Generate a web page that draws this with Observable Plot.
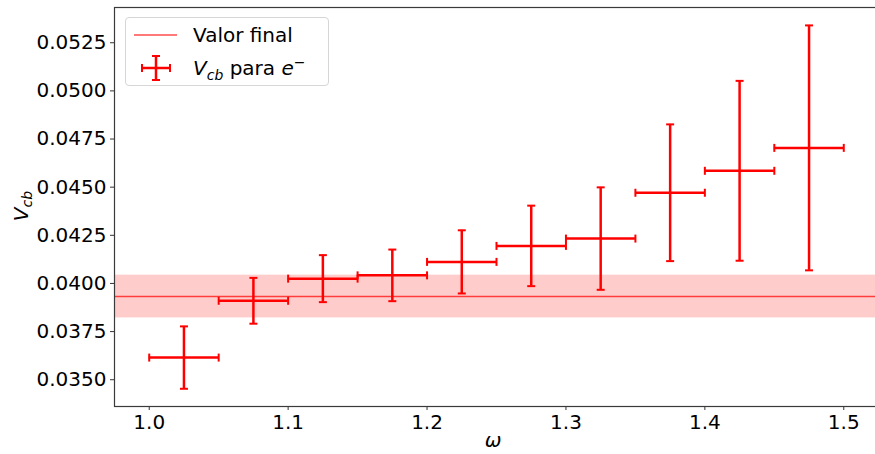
<!DOCTYPE html>
<html>
<head>
<meta charset="utf-8">
<script src="https://cdn.jsdelivr.net/npm/d3@7"></script>
<script src="https://cdn.jsdelivr.net/npm/@observablehq/plot@0.6"></script>
<style>
  html, body { margin: 0; padding: 0; background: #fff; }
  #wrap { position: relative; width: 875px; height: 454px; overflow: hidden; font-family: "DejaVu Sans", sans-serif; }
  #legend {
    position: absolute; left: 125px; top: 17px; width: 204px; height: 69px;
    border: 1px solid #d6d6d6; border-radius: 4px; background: rgba(255,255,255,0.8);
    font-size: 20px; color: #000; box-sizing: border-box;
  }
  .entry { position: absolute; left: 0; height: 30px; display: flex; align-items: center; }
  .entry svg { position: absolute; left: 7px; }
  .entry span.t { position: absolute; left: 67px; white-space: nowrap; }
  sub, sup { font-size: 70%; line-height: 0; }
</style>
</head>
<body>
<div id="wrap">
  <div id="chart"></div>
  <div id="legend">
    <div class="entry" style="top:2px;">
      <svg width="46" height="30"><line x1="1" x2="44" y1="15" y2="15" stroke="#ff0000" stroke-opacity="0.7" stroke-width="1.5"/></svg>
      <span class="t">Valor final</span>
    </div>
    <div class="entry" style="top:35px;">
      <svg width="46" height="30">
        <line x1="9" x2="37" y1="15" y2="15" stroke="#ff0000" stroke-width="2.5"/>
        <line x1="23" x2="23" y1="3" y2="27" stroke="#ff0000" stroke-width="2.5"/>
        <line x1="19" x2="27" y1="3" y2="3" stroke="#ff0000" stroke-width="2"/>
        <line x1="19" x2="27" y1="27" y2="27" stroke="#ff0000" stroke-width="2"/>
        <line x1="9" x2="9" y1="11" y2="19" stroke="#ff0000" stroke-width="2"/>
        <line x1="37" x2="37" y1="11" y2="19" stroke="#ff0000" stroke-width="2"/>
      </svg>
      <span class="t"><i>V</i><sub><i>cb</i></sub> para <i>e</i><sup>−</sup></span>
    </div>
  </div>
</div>
<script>
// ---- data ----
const omega = [1.025, 1.075, 1.125, 1.175, 1.225, 1.275, 1.325, 1.375, 1.425, 1.475];
const omegaErr = [0.025, 0.025, 0.025, 0.025, 0.025, 0.025, 0.025, 0.025, 0.025, 0.025];
const vcb = [0.03615, 0.03910, 0.04025, 0.04042, 0.04112, 0.04195, 0.04233, 0.04471, 0.04585, 0.04704];
const vcbErr = [0.00162, 0.00119, 0.00122, 0.00134, 0.00164, 0.00209, 0.00266, 0.00355, 0.00467, 0.00636];
const finalValue = [0.03932];
const finalErr = [0.00111];
const xTicks = [1.0, 1.1, 1.2, 1.3, 1.4, 1.5];
const yTicks = [0.0350, 0.0375, 0.0400, 0.0425, 0.0450, 0.0475, 0.0500, 0.0525];
const xDomain = [0.975, 1.525];
const yDomain = [0.03361, 0.05433];

const data = omega.map((x, i) => ({x, xe: omegaErr[i], y: vcb[i], ye: vcbErr[i]}));
const band = finalValue.map((v, i) => ({v, e: finalErr[i]}));

const capH = {draw(ctx, size) { const r = Math.sqrt(size / Math.PI); ctx.moveTo(-r, 0); ctx.lineTo(r, 0); }};
const capV = {draw(ctx, size) { const r = Math.sqrt(size / Math.PI); ctx.moveTo(0, -r); ctx.lineTo(0, r); }};

const chart = Plot.plot({
  width: 875, height: 454,
  marginLeft: 114, marginRight: -3, marginTop: 7, marginBottom: 48,
  style: {fontFamily: "DejaVu Sans, sans-serif", fontSize: "20px", color: "#000", background: "#fff", overflow: "hidden"},
  x: {domain: xDomain, label: null},
  y: {domain: yDomain, label: null},
  marks: [
    Plot.rect(band, {x1: () => xDomain[0], x2: () => xDomain[1], y1: d => d.v - d.e, y2: d => d.v + d.e, fill: "#ff0000", fillOpacity: 0.2}),
    Plot.ruleY(band, {y: "v", stroke: "#ff0000", strokeOpacity: 0.7, strokeWidth: 1.5}),
    Plot.ruleX(data, {x: "x", y1: d => d.y - d.ye, y2: d => d.y + d.ye, stroke: "#ff0000", strokeWidth: 2.5}),
    Plot.ruleY(data, {y: "y", x1: d => d.x - d.xe, x2: d => d.x + d.xe, stroke: "#ff0000", strokeWidth: 2.5}),
    Plot.dot(data, {x: "x", y: d => d.y + d.ye, symbol: capH, r: 4, stroke: "#ff0000", strokeWidth: 2, fill: "none"}),
    Plot.dot(data, {x: "x", y: d => d.y - d.ye, symbol: capH, r: 4, stroke: "#ff0000", strokeWidth: 2, fill: "none"}),
    Plot.dot(data, {x: d => d.x - d.xe, y: "y", symbol: capV, r: 4, stroke: "#ff0000", strokeWidth: 2, fill: "none"}),
    Plot.dot(data, {x: d => d.x + d.xe, y: "y", symbol: capV, r: 4, stroke: "#ff0000", strokeWidth: 2, fill: "none"}),
    Plot.axisX({ticks: xTicks, tickFormat: d => d.toFixed(1), tickSize: 4, tickPadding: 4, label: null, stroke: "#333"}),
    Plot.axisY({ticks: yTicks, tickFormat: d => d.toFixed(4), tickSize: 4, tickPadding: 4, label: null, stroke: "#333"}),
    Plot.frame({stroke: "#3a3a3a", strokeWidth: 1.2})
  ]
});
document.getElementById("chart").appendChild(chart);

// axis titles with sub/italic formatting
const svg = d3.select(chart);
const yl = svg.append("text")
  .attr("transform", "translate(28,206) rotate(-90)")
  .attr("text-anchor", "middle")
  .attr("font-size", 20)
  .attr("fill", "#000");
yl.append("tspan").attr("font-style", "italic").text("V");
yl.append("tspan").attr("font-style", "italic").attr("font-size", 14).attr("dy", 4).text("cb");
svg.append("text")
  .attr("x", 493).attr("y", 447)
  .attr("text-anchor", "middle")
  .attr("font-size", 20)
  .attr("font-style", "italic")
  .attr("fill", "#000")
  .text("ω");
</script>
</body>
</html>
